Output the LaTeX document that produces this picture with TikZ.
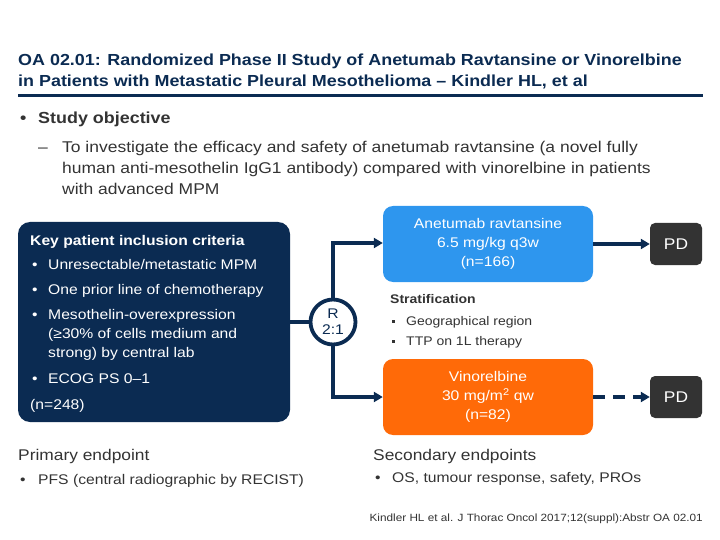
\documentclass[tikz,border=0pt]{standalone}
\usepackage{fontspec}
\setmainfont{Liberation Sans}[FakeStretch=1.12]
\usetikzlibrary{arrows.meta}
\definecolor{navy}{HTML}{0B2B52}
\definecolor{armblue}{HTML}{2E96EE}
\definecolor{armorange}{HTML}{FF6A08}
\definecolor{pdgray}{HTML}{333333}
\definecolor{txt}{HTML}{333333}
\tikzset{
  lbl/.style={anchor=base west, inner sep=0pt, text=txt, font=\fontsize{14}{16}\selectfont},
  ttl/.style={anchor=base west, inner sep=0pt, text=navy, font=\fontsize{16}{19}\selectfont\bfseries},
  wlbl/.style={anchor=base west, inner sep=0pt, text=white, font=\fontsize{14}{16}\selectfont},
  armbox/.style={rounded corners=10pt, minimum width=210pt, minimum height=76pt, align=center, text=white, font=\fontsize{14}{19}\selectfont, inner sep=0pt},
  pdbox/.style={fill=pdgray, rounded corners=5pt, minimum width=52pt, minimum height=42pt, text=white, font=\fontsize{15.5}{16}\selectfont, inner sep=0pt},
  conn/.style={draw=navy, line width=3.8pt},
  arr/.style={conn, -{Triangle[length=9pt,width=10pt]}},
  sm/.style={anchor=base west, inner sep=0pt, text=txt, font=\fontsize{12.5}{15}\selectfont}
}
\newcommand{\sqb}{\raisebox{2.5pt}{\rule{3pt}{3pt}}}
\begin{document}
\begin{tikzpicture}[x=1pt,y=-1pt]
\useasboundingbox (0,0) rectangle (720,540);
% title
\node[ttl] (t1) at (18,66) {OA 02.01: Randomized Phase II Study of Anetumab Ravtansine or Vinorelbine};
\node[ttl] (t2) at (18,87) {in Patients with Metastatic Pleural Mesothelioma -- Kindler HL, et al};
\draw[navy, line width=3pt] (18,96) -- (703,96);
% objective
\node[lbl, font=\fontsize{16}{19}\selectfont\bfseries] (b0) at (20,124) {•};
\node[lbl, font=\fontsize{16}{19}\selectfont\bfseries] (so) at (38,124) {Study objective};
\node[lbl, font=\fontsize{15.6}{19}\selectfont] (d0) at (38,153) {--};
\node[lbl, font=\fontsize{15.6}{19}\selectfont] (o1) at (62,153) {To investigate the efficacy and safety of anetumab ravtansine (a novel fully};
\node[lbl, font=\fontsize{15.6}{19}\selectfont] (o2) at (62,174) {human anti-mesothelin IgG1 antibody) compared with vinorelbine in patients};
\node[lbl, font=\fontsize{15.6}{19}\selectfont] (o3) at (62,195) {with advanced MPM};
% left box
\node[fill=navy, rounded corners=12pt, minimum width=272pt, minimum height=200pt, inner sep=0pt] (lb) at (154,322) {};
\node[wlbl, font=\fontsize{14}{16}\selectfont\bfseries] (k0) at (30,245) {Key patient inclusion criteria};
\node[wlbl] (kb1) at (32,269) {•};
\node[wlbl] (k1) at (48,269) {Unresectable/metastatic MPM};
\node[wlbl] (kb2) at (32,294) {•};
\node[wlbl] (k2) at (48,294) {One prior line of chemotherapy};
\node[wlbl] (kb3) at (32,319) {•};
\node[wlbl] (k3) at (48,319) {Mesothelin-overexpression};
\node[wlbl] (k3b) at (48,338) {(≥30\% of cells medium and};
\node[wlbl] (k3c) at (48,357) {strong) by central lab};
\node[wlbl] (kb4) at (32,383) {•};
\node[wlbl] (k4) at (48,383) {ECOG PS 0–1};
\node[wlbl] (k5) at (30,409) {(n=248)};
% randomisation
\node[circle, draw=navy, line width=3.8pt, fill=white, minimum size=45pt, inner sep=0pt, align=center, text=navy, font=\fontsize{14}{17}\selectfont] (R) at (333,322) {R\\[-1pt]2:1};
\coordinate (top) at (333,243);
\coordinate (bot) at (333,397);
% arms
\node[armbox, fill=armblue] (A) at (488,244) {Anetumab ravtansine\\6.5 mg/kg q3w\\(n=166)};
\node[armbox, fill=armorange] (V) at (488,397) {Vinorelbine\\30 mg/m\textsuperscript{2} qw\\(n=82)};
\node[pdbox] (P1) at (676,244) {PD};
\node[pdbox] (P2) at (676,397) {PD};
% connectors
\draw[conn] (lb.east |- R) -- (R.west);
\draw[conn] (R.north) -- (top);
\draw[conn] (R.south) -- (bot);
\draw[arr] ([xshift=-1.9pt]top) -- (A.west |- top);
\draw[arr] ([xshift=-1.9pt]bot) -- (V.west |- bot);
\draw[arr] (A.east) -- (P1.west);
\draw[arr, dash pattern=on 12pt off 8pt] (V.east) -- (P2.west);
% stratification
\node[sm, font=\fontsize{12.5}{15}\selectfont\bfseries] (st) at (390,303) {Stratification};
\node[sm] (sb1) at (392,325) {\sqb};
\node[sm] (s1) at (406,325) {Geographical region};
\node[sm] (sb2) at (392,345) {\sqb};
\node[sm] (s2) at (406,345) {TTP on 1L therapy};
% endpoints
\node[lbl, font=\fontsize{15.5}{18}\selectfont] (pe) at (18,460) {Primary endpoint};
\node[lbl] (pb) at (20,484) {•};
\node[lbl] (p1) at (38,484) {PFS (central radiographic by RECIST)};
\node[lbl, font=\fontsize{15.5}{18}\selectfont] (se) at (373,460) {Secondary endpoints};
\node[lbl] (sb) at (375,482) {•};
\node[lbl] (s1e) at (392,482) {OS, tumour response, safety, PROs};
\node[anchor=base east, inner sep=0pt, text=txt, font=\fontsize{10.5}{12}\selectfont] (cit) at (703,521) {Kindler HL et al. J Thorac Oncol 2017;12(suppl):Abstr OA 02.01};
\end{tikzpicture}
\end{document}
